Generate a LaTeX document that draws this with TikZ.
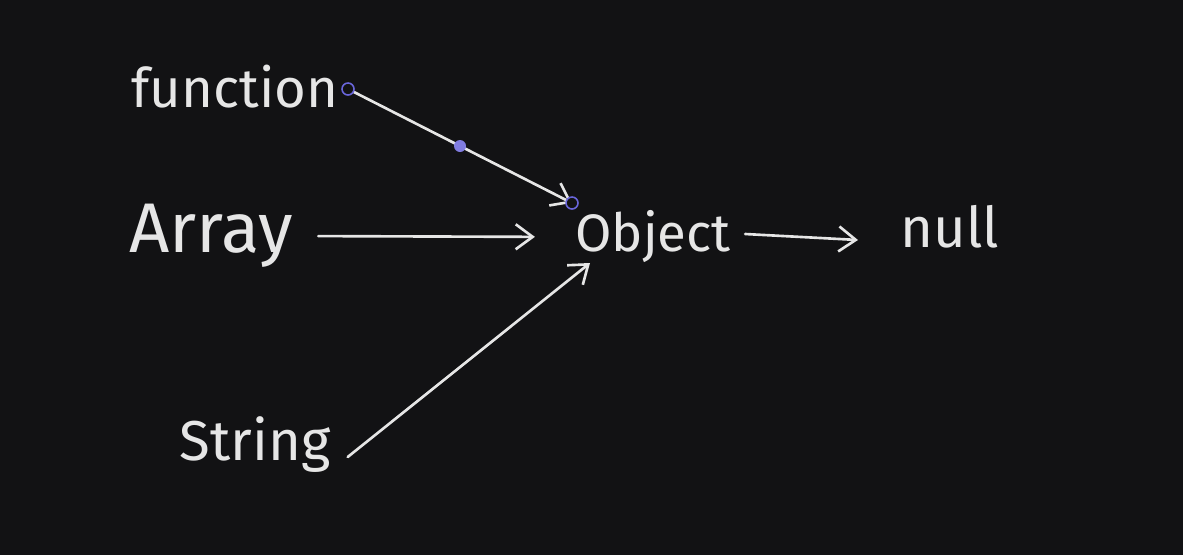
\documentclass[tikz,border=0pt]{standalone}
\usepackage{fontspec}
\setmainfont{Fira Sans}
\usetikzlibrary{arrows.meta,calc}
\definecolor{boardbg}{HTML}{121214}
\definecolor{chalk}{HTML}{E6E6E6}
\definecolor{handle}{HTML}{6965DB}

\begin{document}
\begin{tikzpicture}[x=0.02cm,y=-0.02cm,
        word/.style={text=chalk,inner sep=0pt},
        link/.style={draw=chalk,line width=1.5pt,line cap=round,-{Straight Barb[length=0.34cm,width=0.5cm,line width=1.5pt]}},
        grip/.style={circle,draw=handle,line width=0.9pt,inner sep=0pt,minimum size=0.24cm}]
            \useasboundingbox[fill=boardbg] (0,0) rectangle (1183,555);
            % words
            \node[word,font=\fontsize{31}{36}\selectfont] (function) at (235,87) {function};
            \node[word,font=\fontsize{40}{46}\selectfont] (array) at (211,236) {Array};
            \node[word,font=\fontsize{30}{36}\selectfont] (object) at (653,237) {Object};
            \node[word,font=\fontsize{32}{38}\selectfont] (null) at (950,227) {null};
            \node[word,font=\fontsize{32}{38}\selectfont] (string) at (255,445) {String};
            % arrows
            \coordinate (fstart) at (348,89);
            \coordinate (fend) at (572,203);
            \draw[link] (fstart) -- (fend);
            \draw[link,shorten <=0.5cm,shorten >=0.8cm] (array.east) -- (object.west);
            \draw[link] (string.east) ++(17,12) coordinate (sstart) -- (590,263) coordinate (send);
            \draw[link] (object.east) ++(14,-3) coordinate (ostart) -- (858,240) coordinate (oend);
            % selection handles
            \node[grip,fill=boardbg] at (fstart) {};
            \node[grip,fill=boardbg] at (fend) {};
            \node[grip,fill=handle!85,draw=none] at ($(fstart)!0.5!(fend)$) {};
        \end{tikzpicture}
\end{document}
